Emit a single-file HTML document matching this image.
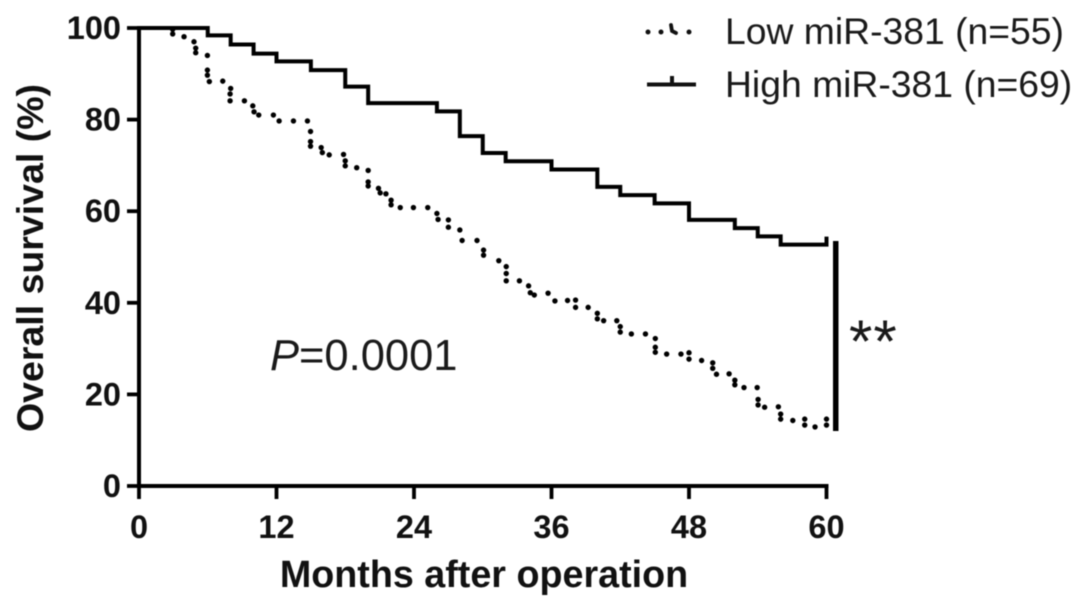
<!DOCTYPE html>
<html lang="en">
<head>
<meta charset="utf-8">
<title>Overall survival by miR-381 expression</title>
<style>
html,body{margin:0;padding:0;background:#fff;width:1087px;height:610px;overflow:hidden}
svg{display:block;filter:blur(0.5px)}
text{font-family:"Liberation Sans",Arial,sans-serif;fill:#1a1a1a}
.tick{font-weight:bold;font-size:32.5px;fill:#111}
.title{font-weight:bold;fill:#111}
</style>
</head>
<body>
<svg id="chart" width="1087" height="610" viewBox="0 0 1087 610" xmlns="http://www.w3.org/2000/svg">
  <g id="axes"></g>
  <g id="series"></g>
  <text class="title" font-size="37.5" text-anchor="middle" transform="translate(43,258) rotate(-90)">Overall survival (%)</text>
  <text class="title" font-size="37.7" text-anchor="middle" x="484" y="587">Months after operation</text>
  <text font-size="43.5" x="270" y="370"><tspan font-style="italic">P</tspan>=0.0001</text>
  <rect x="833" y="241" width="5.5" height="190" fill="#000"></rect>
  <text font-size="60" x="849" y="362" letter-spacing="1">**</text>
  <g>
    <g>
      <circle cx="648" cy="32" r="2.5" fill="#111"></circle>
      <circle cx="661" cy="32" r="2.5" fill="#111"></circle>
      <path d="M671 25 L672 31 L676 33" fill="none" stroke="#111" stroke-width="3.8" stroke-linecap="round"></path>
      <circle cx="689" cy="32" r="2.5" fill="#111"></circle>
      <text font-size="37.3" x="725" y="44">Low miR-381 (n=55)</text>
    </g>
    <g>
      <path d="M647 84.5 H696 M672 84.5 V76" fill="none" stroke="#111" stroke-width="4"></path>
      <text font-size="37.3" x="725" y="97">High miR-381 (n=69)</text>
    </g>
  </g>
</svg>
<script>
// Axis tick labels
const xTicks = [0, 12, 24, 36, 48, 60];
const yTicks = [0, 20, 40, 60, 80, 100];

// High miR-381: Kaplan-Meier steps (month of each drop, survival % after it)
const highMonths = [0, 6, 8, 10, 12, 15, 18, 20, 26, 28, 30, 32, 36, 40, 42, 45, 48, 52, 54, 56, 60];
const highSurvival = [100, 98.4, 96.4, 94.4, 92.7, 90.8, 87.2, 83.6, 81.8, 76.4, 72.7, 70.9, 69.1, 65.3, 63.5, 61.7, 58.1, 56.3, 54.5, 52.7, 52.7];

// Low miR-381: dotted curve, one value per visible dot
const lowMonths = [2.94,2.94,3.93,4.8,4.95,4.95,5.97,5.97,5.97,6.14,7.31,8,7.95,7.95,9.2,9.93,10.04,10.45,11.73,12.23,13.48,14.7,14.97,14.97,14.97,15.9,16,16.6,17.85,18,18,19,20,20,20,20.9,21.05,21.55,22,22,22.8,23.95,25.2,26,26.1,27,27,28,28.2,29.5,30.07,30.07,31.4,32.05,32.05,32.05,33.2,34,34.15,34.5,35.7,36.3,37.4,38.1,38.1,39.2,40,40,40.55,41.7,42,42,42.97,44.2,45.06,45.06,45.06,46.05,47.3,48,48,49.1,50.07,50.07,50.4,51.5,52,52,52.8,53.95,54.03,54.03,54.6,55.8,56,56,57.06,58.1,58.1,59,60,60];
const lowSurvival = [99.7,98.7,98.1,97,95.6,94.6,94,90.8,89.7,88.3,88.4,86.8,85.6,84.1,84.1,83,81.7,81,81,79.7,79.7,79.7,77.4,75.2,74.2,73.9,72.8,72.3,72.4,71,69.9,69.5,68.9,66.4,65.5,65,64,63.8,62.4,61.4,60.8,60.8,60.8,59.5,58.2,58.1,56.5,55.9,53.6,53.6,51.5,50.4,49.2,47.9,46.4,44.8,44.8,43.7,42.2,41.7,42.1,40.4,40.5,40.6,39,39,37.7,36.5,36.1,36.1,34.8,33.6,33.2,33.2,32.2,30.3,29.2,28.8,28.8,29.1,27.7,27.4,26.9,25.7,24.4,24.5,23.1,22.1,21.5,21.5,18.9,17.7,17.2,17.3,15.7,14.6,14.3,14.6,13.3,12.9,14.6,13.3];

const NS = 'http://www.w3.org/2000/svg';
const xScale = m => 139 + m * (826.5 - 139) / 60;
const yScale = s => 486 - s * (486 - 28) / 100;

const axes = document.getElementById('axes');
const series = document.getElementById('series');

const yLine = document.createElementNS(NS, 'line');


yLine.setAttribute('x1', xScale(0));
yLine.setAttribute('x2', xScale(0));
yLine.setAttribute('y1', yScale(100) - 2);
yLine.setAttribute('y2', yScale(0) + 2);
yLine.setAttribute('stroke', '#000');
yLine.setAttribute('stroke-width', '4');
axes.appendChild(yLine);

const xLine = document.createElementNS(NS, 'line');


xLine.setAttribute('x1', xScale(0));
xLine.setAttribute('x2', xScale(60) + 2);
xLine.setAttribute('y1', yScale(0));
xLine.setAttribute('y2', yScale(0));
xLine.setAttribute('stroke', '#000');
xLine.setAttribute('stroke-width', '4');
axes.appendChild(xLine);

yTicks.forEach(v => {
  const t = document.createElementNS(NS, 'line');
  
  
  t.setAttribute('x1', xScale(0) - 12);
  t.setAttribute('x2', xScale(0));
  t.setAttribute('y1', yScale(v));
  t.setAttribute('y2', yScale(v));
  t.setAttribute('stroke', '#000');
  t.setAttribute('stroke-width', '3.8');
  axes.appendChild(t);
  const l = document.createElementNS(NS, 'text');
  
  
  l.setAttribute('class', 'tick');
  l.setAttribute('text-anchor', 'end');
  l.setAttribute('x', xScale(0) - 18);
  l.setAttribute('y', yScale(v) + 11);
  l.textContent = v;
  axes.appendChild(l);
});

xTicks.forEach(v => {
  const t = document.createElementNS(NS, 'line');
  
  
  t.setAttribute('x1', xScale(v));
  t.setAttribute('x2', xScale(v));
  t.setAttribute('y1', yScale(0));
  t.setAttribute('y2', yScale(0) + 13);
  t.setAttribute('stroke', '#000');
  t.setAttribute('stroke-width', '3.8');
  axes.appendChild(t);
  const l = document.createElementNS(NS, 'text');
  
  
  l.setAttribute('class', 'tick');
  l.setAttribute('text-anchor', 'middle');
  l.setAttribute('x', xScale(v));
  l.setAttribute('y', 538);
  l.textContent = v;
  axes.appendChild(l);
});

// High curve: step-after path built from the arrays, with a final censor tick
let d = 'M' + xScale(highMonths[0]) + ' ' + yScale(highSurvival[0]);
for (let i = 1; i < highMonths.length; i++) {
  d += ' H' + xScale(highMonths[i]) + ' V' + yScale(highSurvival[i]);
}
d += ' V' + (yScale(highSurvival[highSurvival.length - 1]) - 8);
const high = document.createElementNS(NS, 'path');


high.setAttribute('d', d);
high.setAttribute('fill', 'none');
high.setAttribute('stroke', '#000');
high.setAttribute('stroke-width', '4');
series.appendChild(high);

// Low curve: drawn dot by dot from the arrays
lowMonths.forEach((m, i) => {
  const c = document.createElementNS(NS, 'circle');
  
  
  c.setAttribute('cx', xScale(m));
  c.setAttribute('cy', yScale(lowSurvival[i]));
  c.setAttribute('r', '2.7');
  c.setAttribute('fill', '#000');
  series.appendChild(c);
});
</script>
</body>
</html>
